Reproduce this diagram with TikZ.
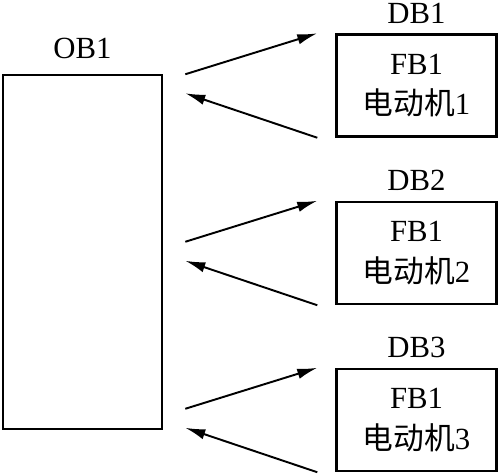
\documentclass[tikz,border=0pt]{standalone}
\usepackage{fontspec}
\setmainfont{Liberation Serif}
\newfontfamily\cjk{Noto Sans CJK SC}
\usetikzlibrary{arrows.meta, calc}

\begin{document}
\begin{tikzpicture}[>={Latex[length=4mm, width=2.1mm]},
  every node/.style={font=\fontsize{17.5}{21}\selectfont},
  block/.style={draw, line width=1.4pt, minimum width=3.2cm, minimum height=2.04cm,
    align=center, inner sep=0pt},
  link/.style={->, line width=1.1pt}]
  \useasboundingbox (0,0) rectangle (10,9.46);
  % Organisationsbaustein
  \node[draw, line width=1.4pt, minimum width=3.18cm, minimum height=7.08cm,
    inner sep=0pt] (ob1) at (1.65,4.42) {};
  \node[anchor=base] (ob1lbl) at ($(ob1.north)+(0,0.3)$) {OB1};
  % Instanz-Datenbausteine mit FB1
  \foreach \i/\y in {1/7.75, 2/4.40, 3/1.06} {
    \node[block] (db\i) at (8.33,\y) {FB1\\[2pt]{\cjk 电动机}\i};
    \node[anchor=base] (db\i lbl) at ($(db\i.north)+(0,0.2)$) {DB\i};
    % Aufruf und Rueckkehr
    \coordinate (out\i) at ($(db\i.north west)+(-3.0,-0.82)$);
    \coordinate (tip\i) at ($(db\i.north west)+(-0.36,0)$);
    \coordinate (back\i) at ($(db\i.south west)+(-0.36,0)$);
    \coordinate (ret\i) at ($(db\i.north west)+(-3.0,-1.2)$);
    \draw[link] (out\i) -- (tip\i);
    \draw[link] (back\i) -- (ret\i);
  }
\end{tikzpicture}
\end{document}
